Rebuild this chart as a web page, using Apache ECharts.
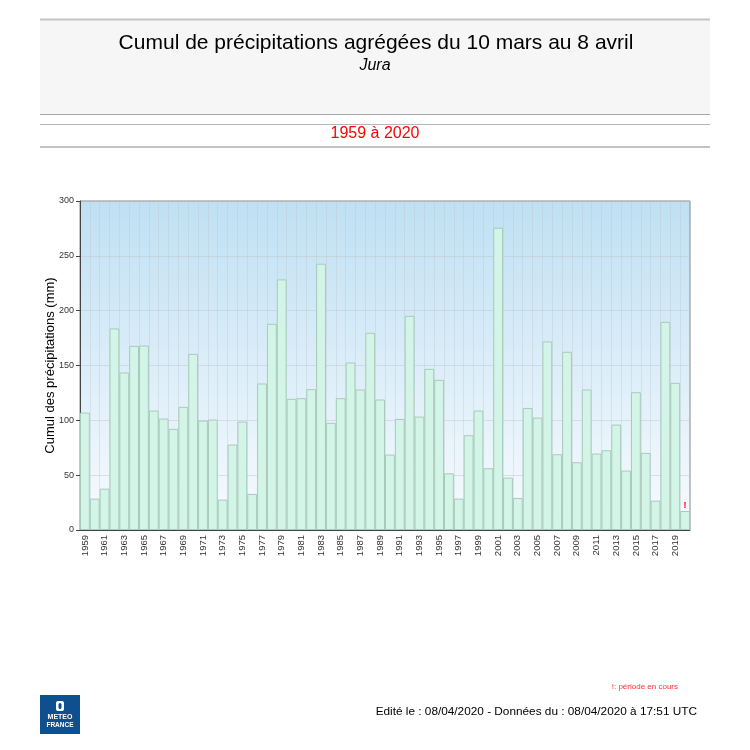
<!DOCTYPE html>
<html>
<head>
<meta charset="utf-8">
<script src="https://cdn.jsdelivr.net/npm/echarts@6/dist/echarts.min.js"></script>
<style>html,body{margin:0;padding:0;background:#fff}#c{width:750px;height:750px}</style>
</head>
<body>
<div id="c"></div>
<script>
var years = [];
for (var y = 1959; y <= 2020; y++) years.push(String(y));
var precip = [107.1, 28.6, 37.7, 183.8, 143.6, 167.9, 168.2, 108.9, 101.6, 92.2,
  112.3, 160.6, 99.8, 100.7, 27.7, 77.9, 98.9, 32.9, 133.6, 188.0,
  228.5, 119.6, 120.2, 128.4, 242.8, 97.7, 120.2, 152.7, 128.1, 179.8,
  119.0, 68.8, 101.3, 195.3, 103.4, 146.9, 136.9, 51.7, 28.6, 86.4,
  108.9, 56.3, 275.6, 47.8, 29.2, 111.3, 102.5, 171.9, 69.1, 162.5,
  61.8, 128.1, 69.7, 72.7, 96.1, 54.2, 125.6, 70.3, 26.8, 189.8,
  134.2, 17.3];
var ongoingIndex = 61;
var titleText = 'Cumul de précipitations agrégées du 10 mars au 8 avril';
var subtitleText = 'Jura';
var periodText = '1959 à 2020';
var yAxisName = 'Cumul des précipitations (mm)';
var noteText = '!: période en cours';
var footerText = 'Edité le : 08/04/2020 - Données du : 08/04/2020 à 17:51 UTC';

var FONT = '"Liberation Sans", Arial, sans-serif';
var seriesData = precip.map(function (v, i) {
  if (i === ongoingIndex) {
    return { value: v, label: { show: true, position: 'top', formatter: '!', color: '#ff0000', fontWeight: 'bold', fontSize: 9, distance: 1 } };
  }
  return v;
});

var chart = echarts.init(document.getElementById('c'), null, { renderer: 'canvas' });
chart.setOption({
  animation: false,
  backgroundColor: '#ffffff',
  textStyle: { fontFamily: FONT },
  grid: {
    left: 80, top: 201, width: 610, height: 329,
    show: true,
    borderColor: '#8a8a8a', borderWidth: 1,
    backgroundColor: { type: 'linear', x: 0, y: 0, x2: 0, y2: 1,
      colorStops: [{ offset: 0, color: '#bfe0f3' }, { offset: 1, color: '#f8fbfe' }] }
  },
  xAxis: {
    type: 'category',
    data: years,
    boundaryGap: true,
    axisLine: { lineStyle: { color: '#444', width: 1 } },
    axisTick: { show: false },
    splitLine: { show: true, interval: 0, lineStyle: { color: 'rgba(190,195,200,0.35)', width: 1 } },
    axisLabel: { interval: 1, rotate: 90, fontSize: 9.5, color: '#333', margin: 5, fontFamily: FONT }
  },
  yAxis: {
    type: 'value',
    min: 0, max: 300, interval: 50,
    name: yAxisName,
    nameLocation: 'middle',
    nameGap: 23,
    nameMoveOverlap: false,
    nameTextStyle: { fontSize: 13, color: '#000', fontFamily: FONT },
    axisLine: { show: true, lineStyle: { color: '#444', width: 1 } },
    axisTick: { show: true, length: 4, lineStyle: { color: '#444' } },
    axisLabel: { fontSize: 9, color: '#333', margin: 6, fontFamily: FONT },
    splitLine: { show: true, lineStyle: { color: 'rgba(190,195,200,0.45)', width: 1 } }
  },
  series: [{
    type: 'bar',
    data: seriesData,
    barCategoryGap: '0%',
    itemStyle: { color: '#d3f5e8', borderColor: '#a9c9bb', borderWidth: 1 }
  }],
  graphic: [
    { type: 'rect', shape: { x: 40, y: 19, width: 670, height: 95 }, style: { fill: '#f6f6f6' }, z: -10 },
    { type: 'line', shape: { x1: 40, y1: 19.5, x2: 710, y2: 19.5 }, style: { stroke: '#c4c4c4', lineWidth: 2 } },
    { type: 'line', shape: { x1: 40, y1: 114.5, x2: 710, y2: 114.5 }, style: { stroke: '#a8a8a8', lineWidth: 1 } },
    { type: 'line', shape: { x1: 40, y1: 124.5, x2: 710, y2: 124.5 }, style: { stroke: '#b4b4b4', lineWidth: 1 } },
    { type: 'line', shape: { x1: 40, y1: 147, x2: 710, y2: 147 }, style: { stroke: '#c4c4c4', lineWidth: 2 } },
    { type: 'text', x: 376, y: 43, style: { text: titleText, fill: '#000', font: '21px ' + FONT, textAlign: 'center', textVerticalAlign: 'middle' } },
    { type: 'text', x: 375, y: 66, style: { text: subtitleText, fill: '#000', font: 'italic 16px ' + FONT, textAlign: 'center', textVerticalAlign: 'middle' } },
    { type: 'text', x: 375, y: 134, style: { text: periodText, fill: '#ff0000', font: '16px ' + FONT, textAlign: 'center', textVerticalAlign: 'middle' } },
    { type: 'text', x: 678, y: 687, style: { text: noteText, fill: '#ff3030', font: '8px ' + FONT, textAlign: 'right', textVerticalAlign: 'middle' } },
    { type: 'text', x: 697, y: 712, style: { text: footerText, fill: '#000', font: '11.8px ' + FONT, textAlign: 'right', textVerticalAlign: 'middle' } },
    { type: 'rect', shape: { x: 40, y: 695, width: 40, height: 39 }, style: { fill: '#0e4f8f' } },
    { type: 'rect', shape: { x: 56, y: 701, width: 8, height: 10, r: 2 }, style: { fill: '#ffffff' } },
    { type: 'rect', shape: { x: 58.5, y: 703, width: 3, height: 6, r: 1.5 }, style: { fill: '#0e4f8f' } },
    { type: 'text', x: 60, y: 717, style: { text: 'METEO', fill: '#fff', font: 'bold 7px ' + FONT, textAlign: 'center', textVerticalAlign: 'middle' } },
    { type: 'text', x: 60, y: 725, style: { text: 'FRANCE', fill: '#fff', font: 'bold 6.5px ' + FONT, textAlign: 'center', textVerticalAlign: 'middle' } }
  ]
});
</script>
</body>
</html>
